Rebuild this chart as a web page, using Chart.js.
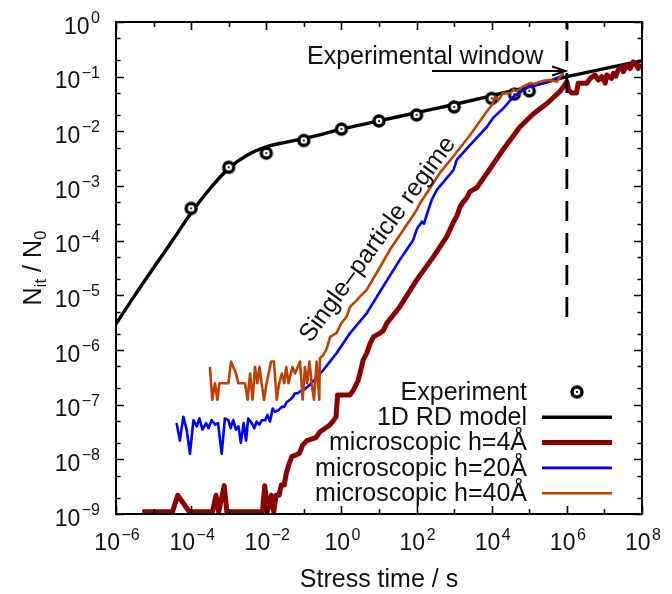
<!DOCTYPE html>
<html>
<head>
<meta charset="utf-8">
<script src="https://cdn.jsdelivr.net/npm/chart.js@4.4.1/dist/chart.umd.min.js"></script>
<style>
  html, body { margin: 0; padding: 0; background: #fff; }
  #wrap { width: 672px; height: 594px; }
</style>
</head>
<body>
<div id="wrap"><canvas id="c" width="672" height="594"></canvas></div>
<script>
const FONT = '"Liberation Sans", Arial, Helvetica, sans-serif';

// Measured interface-trap density (stress time in s, N_it / N_0)
const expTime  = [1e-4, 1e-3, 1e-2, 1e-1, 1, 10, 100, 1e3, 1e4, 4e4, 1e5];
const expRatio = [3.9e-4, 2.2e-3, 4.0e-3, 6.8e-3, 1.1e-2, 1.55e-2, 2.0e-2, 2.8e-2, 4.0e-2, 4.8e-2, 5.5e-2];

// 1D reaction-diffusion model
const rdTime  = [1e-6, 3.16e-6, 1e-5, 3.16e-5, 1e-4, 3.16e-4, 1e-3, 3.16e-3, 1e-2, 3.16e-2, 1e-1, 3.16e-1,
                 1, 10, 100, 1e3, 1e4, 1e5, 1e6, 1e7, 1e8];
const rdRatio = [3.0e-6, 1.0e-5, 3.2e-5, 1.0e-4, 3.2e-4, 8.9e-4, 2.1e-3, 3.7e-3, 5.2e-3, 6.3e-3, 7.4e-3, 8.9e-3,
                 1.1e-2, 1.55e-2, 2.2e-2, 3.1e-2, 4.5e-2, 6.6e-2, 0.1, 0.14, 0.195];

// Microscopic simulation, h = 4 Å
const h4Time  = [5.0e-6, 3.2e-5, 4.4e-5, 8.9e-5, 3.7e-4, 4.6e-4, 5.4e-4, 7.6e-4, 8.9e-4, 7.9e-3,
                 9.1e-3, 1.07e-2, 1.35e-2, 1.58e-2, 1.82e-2, 2.2e-2, 2.5e-2, 3.0e-2, 3.4e-2, 4.1e-2,
                 4.8e-2, 6.2e-2, 7.6e-2, 9.3e-2, 0.12, 0.21, 0.27, 0.48, 0.60, 0.72,
                 0.79, 1.7, 2.1, 2.8, 3.1, 3.8, 4.7, 5.8, 7.1, 10.7,
                 13.2, 16.2, 36, 100, 282, 631, 955, 1175, 1445, 1740,
                 2140, 2630, 4000, 7400, 2.0e4, 5.6e4, 1.29e5, 2.9e5, 6.6e5, 8.9e5,
                 1.0e6, 1.1e6, 1.35e6, 1.8e6, 2.0e6, 3.4e6, 4.2e6, 5.6e6, 6.9e6, 8.5e6,
                 1.05e7, 1.15e7, 1.55e7, 1.74e7, 2.0e7, 2.3e7, 2.9e7, 3.2e7, 3.9e7, 4.8e7,
                 5.9e7, 7.2e7, 7.9e7, 8.9e7];
const h4Ratio = [1.1e-9, 1.1e-9, 2.2e-9, 1.1e-9, 1.1e-9, 2.2e-9, 1.1e-9, 3.3e-9, 1.1e-9, 1.1e-9,
                 3.3e-9, 1.1e-9, 2.2e-9, 1.1e-9, 2.2e-9, 2.2e-9, 3.4e-9, 3.4e-9, 5.5e-9, 8.5e-9,
                 1.12e-8, 1.2e-8, 1.29e-8, 1.82e-8, 2.2e-8, 2.5e-8, 3.2e-8, 4.2e-8, 5.0e-8, 6.0e-8,
                 1.51e-7, 1.51e-7, 1.86e-7, 2.8e-7, 3.7e-7, 6.6e-7, 8.7e-7, 1.32e-6, 1.74e-6, 2.04e-6,
                 2.3e-6, 3.1e-6, 6.2e-6, 1.9e-5, 5.1e-5, 1.17e-4, 2.2e-4, 2.8e-4, 4.2e-4, 5.1e-4,
                 6.0e-4, 7.9e-4, 9.3e-4, 1.7e-3, 4.6e-3, 1.2e-2, 2.1e-2, 3.2e-2, 5.4e-2, 7.1e-2,
                 8.1e-2, 5.8e-2, 5.0e-2, 5.0e-2, 7.6e-2, 7.6e-2, 9.3e-2, 0.107, 8.7e-2, 0.10,
                 7.6e-2, 0.107, 9.3e-2, 0.115, 0.102, 0.132, 0.151, 0.123, 0.162, 0.141,
                 0.186, 0.162, 0.141, 0.174];

// Microscopic simulation, h = 20 Å
const h20Time  = [4.1e-5, 5.0e-5, 6.2e-5, 7.6e-5, 9.3e-5, 1.15e-4, 1.41e-4, 1.66e-4, 2.0e-4, 2.5e-4,
                  2.9e-4, 3.5e-4, 4.4e-4, 5.2e-4, 6.5e-4, 7.9e-4, 9.8e-4, 1.12e-3, 1.32e-3, 1.55e-3,
                  1.82e-3, 2.1e-3, 2.5e-3, 2.9e-3, 3.3e-3, 4.1e-3, 4.8e-3, 5.5e-3, 6.6e-3, 7.6e-3,
                  9.3e-3, 1.07e-2, 1.26e-2, 1.48e-2, 1.7e-2, 2.1e-2, 2.6e-2, 3.0e-2, 3.5e-2, 4.3e-2,
                  5.2e-2, 5.8e-2, 6.9e-2, 7.9e-2, 9.8e-2, 0.145, 0.22, 0.33, 0.50, 0.74,
                  1.7, 4.7, 12.9, 36, 81, 100, 112, 123, 138, 158,
                  186, 251, 347, 955, 1175, 2630, 7400, 1.1e4, 2.0e4, 3.8e4,
                  8.5e4, 1.58e5, 2.9e5, 6.6e5, 8.3e5];
const h20Ratio = [4.6e-8, 2.2e-8, 6.0e-8, 3.5e-8, 1.26e-8, 5.2e-8, 4.0e-8, 5.6e-8, 3.5e-8, 4.6e-8,
                  3.7e-8, 5.2e-8, 4.3e-8, 4.6e-8, 1.26e-8, 5.6e-8, 5.2e-8, 3.7e-8, 5.2e-8, 3.5e-8,
                  4.0e-8, 2.0e-8, 4.6e-8, 2.2e-8, 5.6e-8, 4.6e-8, 3.7e-8, 4.9e-8, 4.3e-8, 5.2e-8,
                  5.2e-8, 6.5e-8, 4.9e-8, 8.5e-8, 7.4e-8, 7.9e-8, 9.1e-8, 9.1e-8, 1.12e-7, 1.23e-7,
                  1.41e-7, 1.62e-7, 1.62e-7, 1.74e-7, 1.86e-7, 2.3e-7, 3.2e-7, 4.3e-7, 6.2e-7, 8.7e-7,
                  2.04e-6, 4.7e-6, 1.45e-5, 4.5e-5, 1.02e-4, 1.58e-4, 1.82e-4, 1.95e-4, 2.24e-4, 2.04e-4,
                  2.95e-4, 5.5e-4, 8.5e-4, 1.95e-3, 3.0e-3, 5.6e-3, 1.2e-2, 1.78e-2, 2.6e-2, 4.3e-2,
                  6.2e-2, 7.1e-2, 7.9e-2, 0.10, 0.107];

// Microscopic simulation, h = 40 Å
const h40Time  = [3.16e-4, 3.65e-4, 4.3e-4, 5.0e-4, 5.6e-4, 7.2e-4, 9.8e-4, 1.15e-3, 1.32e-3, 1.56e-3,
                  1.8e-3, 2.7e-3, 3.2e-3, 3.7e-3, 4.3e-3, 5.0e-3, 5.8e-3, 6.6e-3, 7.5e-3, 8.7e-3,
                  1.02e-2, 1.34e-2, 1.6e-2, 1.9e-2, 2.2e-2, 2.6e-2, 3.0e-2, 3.4e-2, 3.9e-2, 4.5e-2,
                  5.0e-2, 5.8e-2, 6.9e-2, 7.9e-2, 9.3e-2, 0.107, 0.123, 0.141, 0.162, 0.186,
                  0.219, 0.257, 0.269, 0.33, 0.41, 0.50, 0.74, 1.0, 1.38, 1.7,
                  2.57, 3.1, 4.7, 10.7, 19.5, 44.7, 100, 123, 417, 955,
                  2630, 7400, 1.0e4, 1.23e4, 1.5e4, 2.0e4, 3.1e4, 3.8e4, 4.6e4, 6.9e4,
                  1.05e5, 1.41e5, 1.95e5, 2.6e5, 3.5e5, 5.4e5, 7.2e5, 8.3e5];
const h40Ratio = [4.9e-7, 1.23e-7, 2.46e-7, 1.23e-7, 2.46e-7, 2.46e-7, 2.46e-7, 6.15e-7, 4.9e-7, 3.7e-7,
                  2.46e-7, 2.46e-7, 1.23e-7, 3.7e-7, 1.23e-7, 4.9e-7, 2.46e-7, 4.9e-7, 2.46e-7, 1.23e-7,
                  2.46e-7, 6.15e-7, 6.15e-7, 1.23e-7, 2.46e-7, 3.7e-7, 2.46e-7, 4.9e-7, 2.46e-7, 3.7e-7,
                  4.9e-7, 3.7e-7, 4.9e-7, 6.15e-7, 1.23e-7, 4.9e-7, 2.46e-7, 6.15e-7, 2.46e-7, 1.23e-7,
                  6.15e-7, 1.23e-7, 7.1e-7, 8.1e-7, 1.07e-6, 1.74e-6, 2.04e-6, 3.1e-6, 4.1e-6, 6.2e-6,
                  8.1e-6, 9.5e-6, 1.26e-5, 3.3e-5, 6.8e-5, 1.58e-4, 3.6e-4, 4.8e-4, 1.74e-3, 3.5e-3,
                  8.5e-3, 2.3e-2, 3.0e-2, 4.3e-2, 3.7e-2, 5.0e-2, 5.0e-2, 5.8e-2, 5.4e-2, 6.6e-2,
                  7.6e-2, 7.4e-2, 8.1e-2, 8.5e-2, 8.7e-2, 8.1e-2, 0.107, 0.112];

// Edge of the experimental window and its annotation arrow
const windowTime = 1e6;
const windowLineBottom = 4e-6;
const arrowFrom = 257, arrowTo = 9e5, arrowLevel = 0.127;

// Axis decades
const xDecades = [-6, -5, -4, -3, -2, -1, 0, 1, 2, 3, 4, 5, 6, 7, 8];
const xLabelExps = [-6, -4, -2, 0, 2, 4, 6, 8];
const yLabelExps = [0, -1, -2, -3, -4, -5, -6, -7, -8, -9];
const yMinorMantissas = [2, 5];

const COLORS = { h4: '#8b0000', h20: '#0000ff', h40: '#c04000', black: '#000000' };

const pts = (xs, ys) => xs.map((x, i) => ({ x, y: ys[i] }));

// Ring marker with a small centre dot for the measured points
const ring = document.createElement('canvas');
ring.width = 18; ring.height = 18;
(() => {
  const g = ring.getContext('2d');
  g.beginPath(); g.arc(9, 9, 5.0, 0, Math.PI * 2);
  g.fillStyle = '#fff'; g.fill();
  g.lineWidth = 3.4; g.strokeStyle = '#000'; g.stroke();
  g.beginPath(); g.arc(9, 9, 1.1, 0, Math.PI * 2);
  g.fillStyle = '#000'; g.fill();
})();

function powerLabel(ctx, exp, x, y, align) {
  const base = '10';
  const sup = exp < 0 ? '\u2212' + (-exp) : String(exp);
  ctx.font = '23px ' + FONT;
  const wb = ctx.measureText(base).width;
  ctx.font = '16px ' + FONT;
  const ws = ctx.measureText(sup).width;
  const gap = 1.5;
  const total = wb + gap + ws;
  const x0 = align === 'center' ? x - total / 2 : x - total;
  ctx.textAlign = 'left';
  ctx.textBaseline = 'alphabetic';
  ctx.font = '23px ' + FONT;
  ctx.fillText(base, x0, y);
  ctx.font = '16px ' + FONT;
  ctx.fillText(sup, x0 + wb + gap, y - 10.5);
}

function richText(ctx, parts, x, y) {
  // parts: [text, size, baselineShift]
  let w = 0;
  parts.forEach(p => { ctx.font = p[1] + 'px ' + FONT; w += ctx.measureText(p[0]).width; });
  let cx = x - w / 2;
  ctx.textAlign = 'left';
  ctx.textBaseline = 'alphabetic';
  parts.forEach(p => {
    ctx.font = p[1] + 'px ' + FONT;
    ctx.fillText(p[0], cx, y + p[2]);
    cx += ctx.measureText(p[0]).width;
  });
}

const decorations = {
  id: 'decorations',
  afterDatasetsDraw(chart) {
    const { ctx, chartArea: a, scales: { x, y } } = chart;
    ctx.save();
    ctx.strokeStyle = '#000';
    ctx.fillStyle = '#111';

    // inward ticks, mirrored on all four sides
    ctx.lineWidth = 1.6;
    ctx.beginPath();
    xDecades.forEach(d => {
      const px = Math.round(x.getPixelForValue(Math.pow(10, d))) + 0.5;
      const len = d % 2 === 0 ? 8 : 5;
      ctx.moveTo(px, a.bottom); ctx.lineTo(px, a.bottom - len);
      ctx.moveTo(px, a.top); ctx.lineTo(px, a.top + len);
    });
    yLabelExps.forEach(d => {
      const py = Math.round(y.getPixelForValue(Math.pow(10, d))) + 0.5;
      ctx.moveTo(a.left, py); ctx.lineTo(a.left + 8, py);
      ctx.moveTo(a.right, py); ctx.lineTo(a.right - 8, py);
      if (d < 0) {
        yMinorMantissas.forEach(m => {
          const pm = Math.round(y.getPixelForValue(m * Math.pow(10, d))) + 0.5;
          ctx.moveTo(a.left, pm); ctx.lineTo(a.left + 4.5, pm);
          ctx.moveTo(a.right, pm); ctx.lineTo(a.right - 4.5, pm);
        });
      }
    });
    ctx.stroke();

    // frame
    ctx.lineWidth = 2;
    ctx.strokeRect(a.left, a.top, a.right - a.left, a.bottom - a.top);

    // tick labels
    xLabelExps.forEach(d => powerLabel(ctx, d, x.getPixelForValue(Math.pow(10, d)) + 1, a.bottom + 36, 'center'));
    yLabelExps.forEach(d => powerLabel(ctx, d, a.left - 16, y.getPixelForValue(Math.pow(10, d)) + 11.5, 'right'));

    // axis titles
    richText(ctx, [['Stress time / s', 25, 0]], (a.left + a.right) / 2, 587);
    ctx.save();
    ctx.translate(41, (a.top + a.bottom) / 2);
    ctx.rotate(-Math.PI / 2);
    richText(ctx, [['N', 25, 0], ['it', 17, 5], [' / N', 25, 0], ['0', 17, 5]], 0, 0);
    ctx.restore();

    // experimental window arrow
    const ax0 = x.getPixelForValue(arrowFrom), ax1 = x.getPixelForValue(arrowTo);
    const ay = y.getPixelForValue(arrowLevel);
    ctx.lineWidth = 2.2;
    ctx.beginPath();
    ctx.moveTo(ax0, ay); ctx.lineTo(ax1, ay);
    ctx.moveTo(ax1 - 13, ay - 4.5); ctx.lineTo(ax1, ay); ctx.lineTo(ax1 - 13, ay + 4.5);
    ctx.stroke();
    ctx.font = '25px ' + FONT;
    ctx.textAlign = 'left';
    ctx.textBaseline = 'alphabetic';
    ctx.fillText('Experimental window', 307, 64);

    // regime label along the rising curves
    ctx.save();
    ctx.translate(x.getPixelForValue(9.3), y.getPixelForValue(1.05e-4));
    ctx.rotate(-54 * Math.PI / 180);
    ctx.font = '25px ' + FONT;
    ctx.textAlign = 'center';
    ctx.textBaseline = 'middle';
    ctx.fillText('Single\u2013particle regime', 0, 0);
    ctx.restore();

    // key
    const ds = chart.data.datasets;
    const rows = [
      ds.find(d => d.label === 'Experiment'),
      ds.find(d => d.label === '1D RD model'),
      ds.find(d => d.label === 'microscopic h=4Å'),
      ds.find(d => d.label === 'microscopic h=20Å'),
      ds.find(d => d.label === 'microscopic h=40Å')
    ];
    const textRight = a.right - 115, s0 = a.right - 100, s1 = a.right - 30;
    rows.forEach((d, i) => {
      const ry = a.bottom - 122 + i * 25.3;
      ctx.font = '25px ' + FONT;
      ctx.textAlign = 'right';
      ctx.textBaseline = 'middle';
      ctx.fillStyle = '#111';
      ctx.fillText(d.label, textRight, ry + 1);
      if (d.showLine === false) {
        ctx.drawImage(ring, (s0 + s1) / 2 - ring.width / 2, ry - ring.height / 2);
      } else {
        ctx.strokeStyle = d.borderColor;
        ctx.lineWidth = d.borderWidth;
        ctx.beginPath(); ctx.moveTo(s0, ry); ctx.lineTo(s1, ry); ctx.stroke();
      }
    });
    ctx.restore();
  }
};

new Chart(document.getElementById('c'), {
  type: 'line',
  data: {
    datasets: [
      { label: 'window', data: [{ x: windowTime, y: windowLineBottom }, { x: windowTime, y: 1 }],
        borderColor: COLORS.black, borderWidth: 2.8, borderDash: [20, 12], pointRadius: 0, order: 0 },
      { label: 'microscopic h=40Å', data: pts(h40Time, h40Ratio), borderColor: COLORS.h40,
        borderWidth: 2.6, pointRadius: 0, borderJoinStyle: 'round', order: 1 },
      { label: 'microscopic h=20Å', data: pts(h20Time, h20Ratio), borderColor: COLORS.h20,
        borderWidth: 2.6, pointRadius: 0, borderJoinStyle: 'round', order: 2 },
      { label: 'microscopic h=4Å', data: pts(h4Time, h4Ratio), borderColor: COLORS.h4,
        borderWidth: 5, pointRadius: 0, borderJoinStyle: 'round', order: 3 },
      { label: 'Experiment', data: pts(expTime, expRatio), showLine: false,
        pointStyle: ring, pointRadius: 6, order: 4 },
      { label: '1D RD model', data: pts(rdTime, rdRatio), borderColor: COLORS.black,
        borderWidth: 3.4, pointRadius: 0, cubicInterpolationMode: 'monotone', order: 5 }
    ]
  },
  options: {
    responsive: false,
    animation: false,
    events: [],
    layout: { padding: { left: 116, top: 22, right: 30, bottom: 80 } },
    plugins: { legend: { display: false }, tooltip: { enabled: false } },
    scales: {
      x: { type: 'logarithmic', min: 1e-6, max: 1e8, display: false },
      y: { type: 'logarithmic', min: 1e-9, max: 1, display: false }
    }
  },
  plugins: [decorations]
});
</script>
</body>
</html>
